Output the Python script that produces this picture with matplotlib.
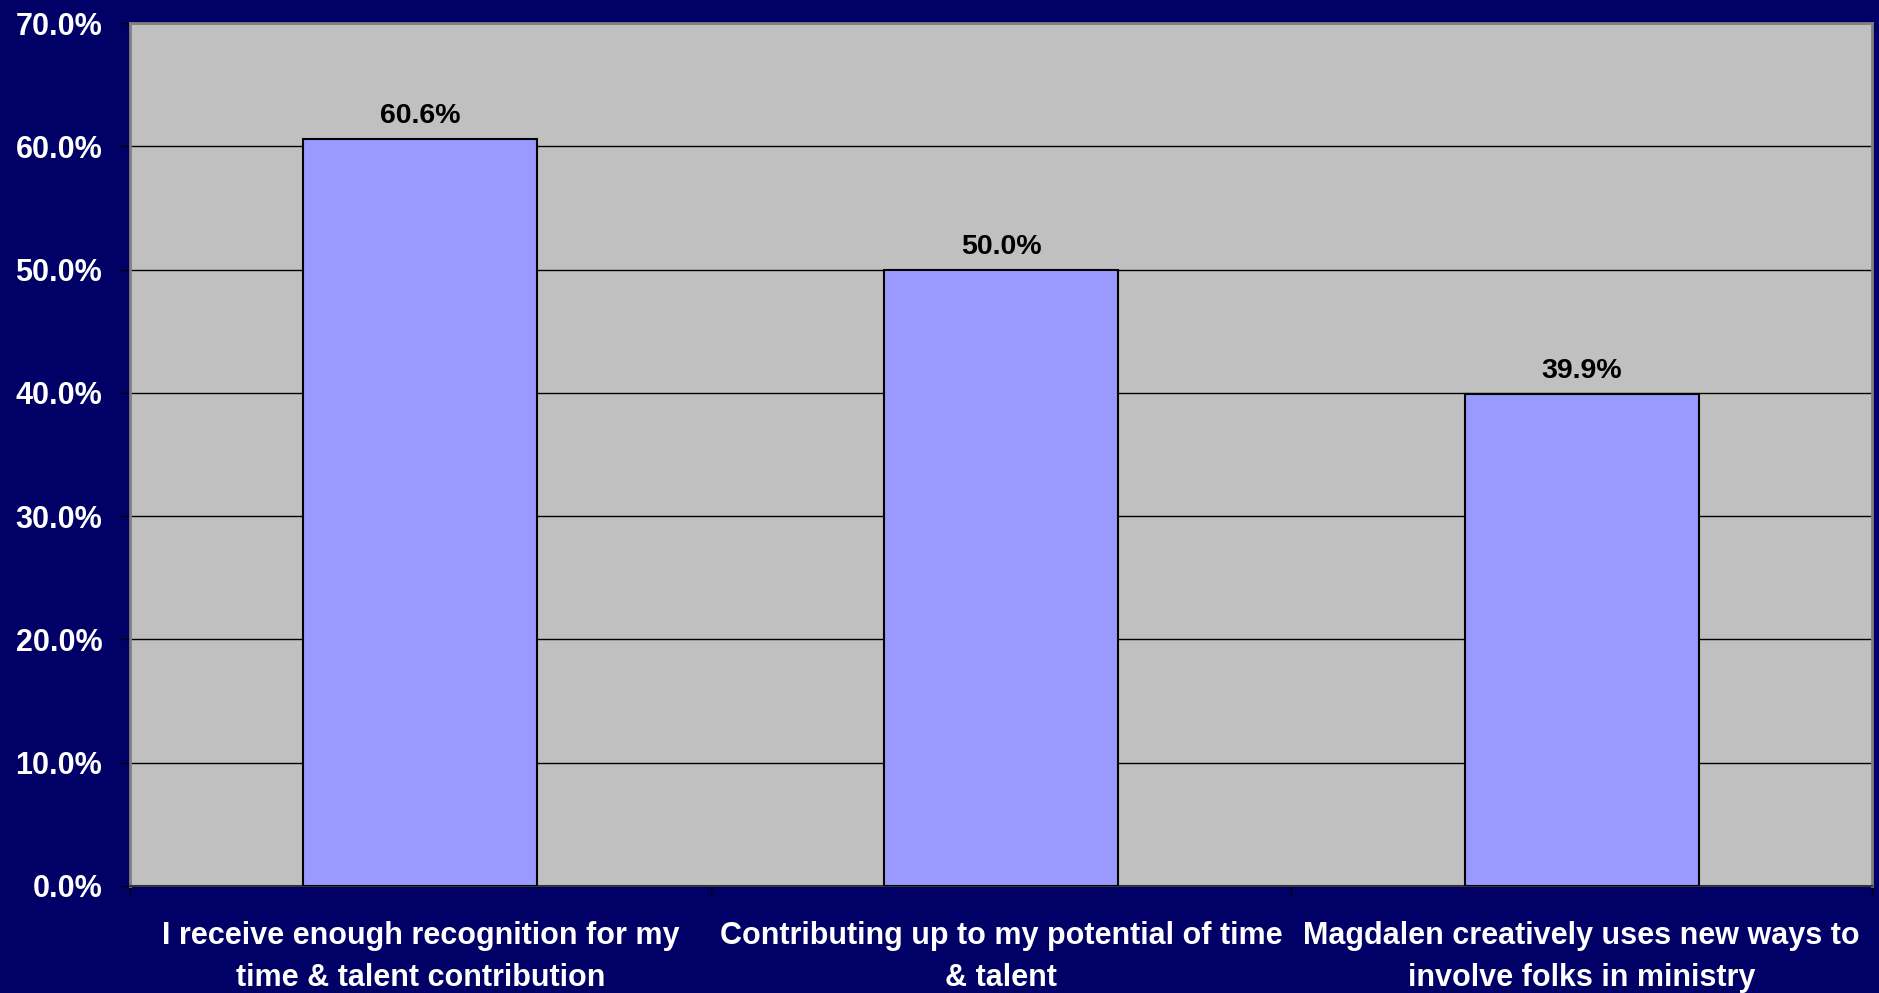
import matplotlib
matplotlib.use("Agg")
import matplotlib.pyplot as plt
from matplotlib.ticker import FixedLocator, FuncFormatter

categories = [
    "I receive enough recognition for my\ntime & talent contribution",
    "Contributing up to my potential of time\n& talent",
    "Magdalen creatively uses new ways to\ninvolve folks in ministry",
]
values = [0.606, 0.500, 0.399]
yticks = [0.0, 0.1, 0.2, 0.3, 0.4, 0.5, 0.6, 0.7]

NAVY = "#000066"
PLOT_BG = "#C0C0C0"
BAR = "#9999FF"

plt.rcParams["font.family"] = ["Liberation Sans", "DejaVu Sans"]
plt.rcParams["font.weight"] = "bold"

fig = plt.figure(figsize=(18.79, 9.93), dpi=100, facecolor=NAVY)
ax = fig.add_axes([0.0692, 0.1078, 0.9963 - 0.0692, 0.9768 - 0.1078])
ax.set_facecolor(PLOT_BG)

x = list(range(len(categories)))
ax.set_axisbelow(True)
ax.yaxis.grid(True, color="black", lw=1.0)
bars = ax.bar(x, values, width=0.403, color=BAR, edgecolor="black", lw=1.5, zorder=3)
for b, v in zip(bars, values):
    ax.text(b.get_x() + b.get_width() / 2, v + 0.008, f"{v:.1%}", ha="center", va="bottom",
            fontsize=20.5, fontweight="bold", color="black")

ax.set_xlim(-0.5, len(categories) - 0.5)
ax.set_ylim(0, 0.7)
ax.set_yticks(yticks)
ax.yaxis.set_major_formatter(FuncFormatter(lambda v, _: f"{v:.1%}"))
ax.set_xticks(x)
ax.set_xticklabels(categories, fontsize=22, fontweight="bold", color="white", linespacing=1.55)
ax.xaxis.set_minor_locator(FixedLocator([i - 0.5 for i in range(len(categories) + 1)]))
ax.tick_params(axis="x", which="major", length=0, pad=25)
ax.tick_params(axis="x", which="minor", length=7, width=1, color="black", direction="out")
ax.tick_params(axis="y", length=7, width=1, color="black", pad=13, labelsize=22, labelcolor="white")

for side in ("top", "right", "left"):
    ax.spines[side].set_color("#808080")
    ax.spines[side].set_linewidth(2)
ax.spines["bottom"].set_color("#333333")
ax.spines["bottom"].set_linewidth(1.5)

fig.savefig("out.png", dpi=100, facecolor=NAVY)
